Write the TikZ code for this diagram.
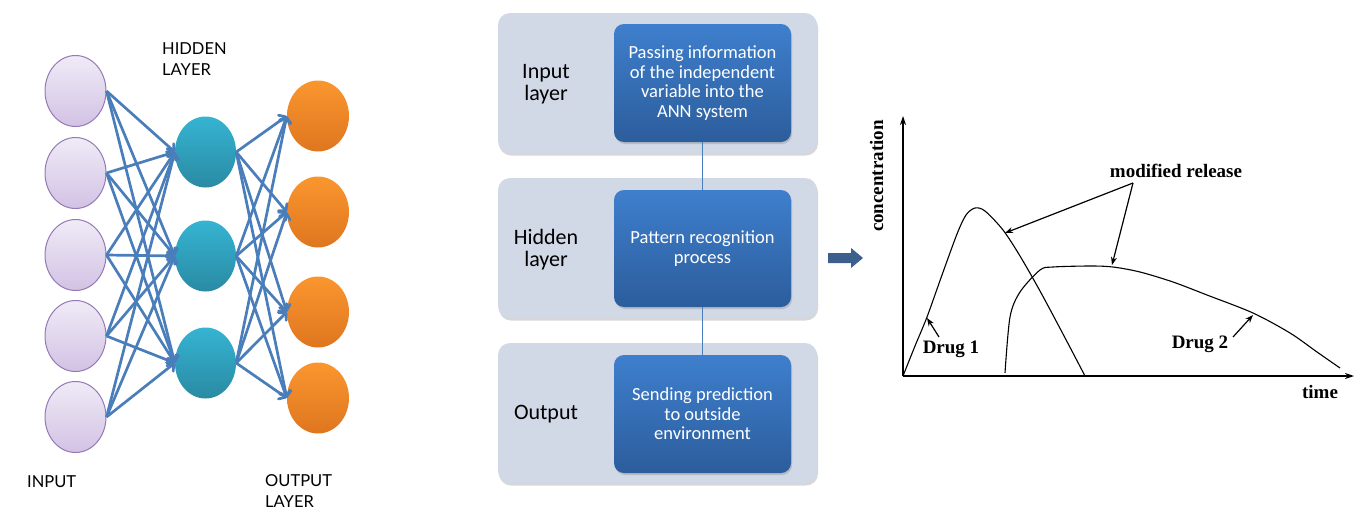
\documentclass[tikz,border=0pt]{standalone}
\usepackage{fontspec}
\setmainfont{Carlito}
\newfontfamily\latofont{Lato}
\newfontfamily\timesfont{Liberation Serif}
\usetikzlibrary{arrows.meta,shapes.geometric,shadows}
\definecolor{netblue}{HTML}{4A7EBB}
\definecolor{inborder}{HTML}{9479B5}
\definecolor{intop}{HTML}{F0EBF7}
\definecolor{inbot}{HTML}{D2C2E4}
\definecolor{hidtop}{HTML}{35B4D2}
\definecolor{hidbot}{HTML}{2A8AA3}
\definecolor{outtop}{HTML}{FA962F}
\definecolor{outbot}{HTML}{DF761F}
\definecolor{outerfill}{HTML}{D1D8E6}
\definecolor{innertop}{HTML}{3E7FCD}
\definecolor{innerbot}{HTML}{2C5D9C}
\definecolor{bigarrow}{HTML}{3D5F8E}
\begin{document}
\begin{tikzpicture}[x=1pt,y=-1pt,
  inpnode/.style={ellipse, minimum width=61pt, minimum height=71pt, inner sep=0pt,
    draw=inborder, line width=1pt, top color=intop, bottom color=inbot},
  hidnode/.style={ellipse, minimum width=61pt, minimum height=71pt, inner sep=0pt,
    top color=hidtop, bottom color=hidbot},
  outnode/.style={ellipse, minimum width=62pt, minimum height=71pt, inner sep=0pt,
    top color=outtop, bottom color=outbot},
  netarrow/.style={draw=netblue, line width=2.7pt, -{Straight Barb[length=5pt,width=11pt,round]}},
  netlabel/.style={font=\latofont\fontsize{16.5}{21}\selectfont, inner sep=0pt, align=left, anchor=north west},
  outerbox/.style={fill=outerfill, rounded corners=12pt, minimum width=319pt, minimum height=140pt,
    drop shadow={shadow xshift=1pt, shadow yshift=-2.5pt, fill=black!35, opacity=0.45}},
  innerbox/.style={rounded corners=10pt, minimum width=177pt, top color=innertop, bottom color=innerbot,
    text=white, align=center, font=\fontsize{18.5}{19.5}\selectfont,
    drop shadow={shadow xshift=1pt, shadow yshift=-2pt, fill=black!40, opacity=0.45}},
  midlabel/.style={align=center, font=\fontsize{22}{22}\selectfont, inner sep=0pt},
  axisline/.style={line width=1.3pt, -{Stealth[length=9pt,width=6pt]}},
  curve/.style={line width=1.1pt},
  annot/.style={line width=1.2pt, -{Stealth[length=8pt,width=6pt]}},
  chartlabel/.style={font=\timesfont\bfseries\fontsize{19}{22}\selectfont, inner sep=0pt}
]
\useasboundingbox (0,0) rectangle (1363,509);

% ---------------- neural network ----------------
\node[inpnode] (in1) at (75.5,91) {};
\node[inpnode] (in2) at (75.5,173) {};
\node[inpnode] (in3) at (75.5,255) {};
\node[inpnode] (in4) at (75.5,336) {};
\node[inpnode] (in5) at (75.5,417) {};
\node[hidnode] (h1) at (205.5,152) {};
\node[hidnode] (h2) at (205.5,256) {};
\node[hidnode] (h3) at (205.5,363) {};
\node[outnode] (o1) at (318,116) {};
\node[outnode] (o2) at (318,212) {};
\node[outnode] (o3) at (318,312) {};
\node[outnode] (o4) at (318,398) {};
\foreach \i in {1,...,5}{
  \foreach \j in {1,2,3}{
    \draw[netarrow] (in\i.east) -- (h\j.west);
  }
}
\foreach \j in {1,2,3}{
  \foreach \k in {1,...,4}{
    \draw[netarrow] (h\j.east) -- (o\k.west);
  }
}
\node[netlabel] (lhid) at (162,42) {HIDDEN\\LAYER};
\node[netlabel] (linp) at (27,475) {INPUT};
\node[netlabel] (lout) at (265,474) {OUTPUT\\LAYER};

% ---------------- middle flow ----------------
\node[outerbox] (ob1) at (657.5,83) {};
\node[outerbox] (ob2) at (657.5,248) {};
\node[outerbox] (ob3) at (657.5,413) {};
\node[innerbox, minimum height=118pt] (ib1) at (702.5,83) {Passing information\\of the independent\\variable into the\\ANN system};
\node[innerbox, minimum height=117pt] (ib2) at (702.5,248.5) {Pattern recognition\\process};
\node[innerbox, minimum height=118pt] (ib3) at (702.5,414) {Sending prediction\\to outside\\environment};
\draw[netblue, line width=1pt] (ib1.south) -- (ib2.north);
\draw[netblue, line width=1pt] (ib2.south) -- (ib3.north);
\node[midlabel] (m1) at (546,84) {Input\\layer};
\node[midlabel] (m2) at (546,250) {Hidden\\layer};
\node[midlabel] (m3) at (546,414) {Output};

% block arrow
\fill[bigarrow] (828,253) -- (851,253) -- (851,248) -- (863,258) -- (851,268) -- (851,263) -- (828,263) -- cycle;

% ---------------- chart ----------------
\coordinate (O) at (903,376);
\coordinate (ytop) at (903,116);
\coordinate (xend) at (1354,376);
\draw[axisline] (O) -- (ytop);
\draw[axisline] (O) -- (xend);
\draw[curve] plot[smooth, tension=0.5] coordinates {(903,376) (915,346) (927,317) (942,275) (957,234) (966,215) (975,208) (985,211) (1003,230) (1020,256) (1040,291) (1063,334) (1085,376)};
\draw[curve] plot[smooth, tension=0.5] coordinates {(1005,373) (1010,317) (1020,292) (1040,270) (1053,267) (1090,266) (1113,267) (1140,272) (1173,282) (1207,295) (1253,313) (1290,333) (1317,352) (1340,368)};

\node[chartlabel, rotate=90, anchor=base] (conc) at (883,176) {concentration};
\node[chartlabel, anchor=base] (mr) at (1176,177) {modified release};
\node[chartlabel, anchor=base] (time) at (1320,398) {time};
\node[chartlabel, anchor=base] (d1) at (951,353) {Drug 1};
\node[chartlabel, anchor=base] (d2) at (1200,348) {Drug 2};

\coordinate (mrs) at (1133,183);
\coordinate (c1) at (1005,233);
\coordinate (c2) at (1112,265);
\draw[annot] (mrs) -- (c1);
\draw[annot] (mrs) -- (c2);
\coordinate (d1s) at (939,337);
\coordinate (d1e) at (927,318);
\draw[annot] (d1s) -- (d1e);
\coordinate (d2s) at (1233,337);
\coordinate (d2e) at (1253,315);
\draw[annot] (d2s) -- (d2e);
\end{tikzpicture}
\end{document}
